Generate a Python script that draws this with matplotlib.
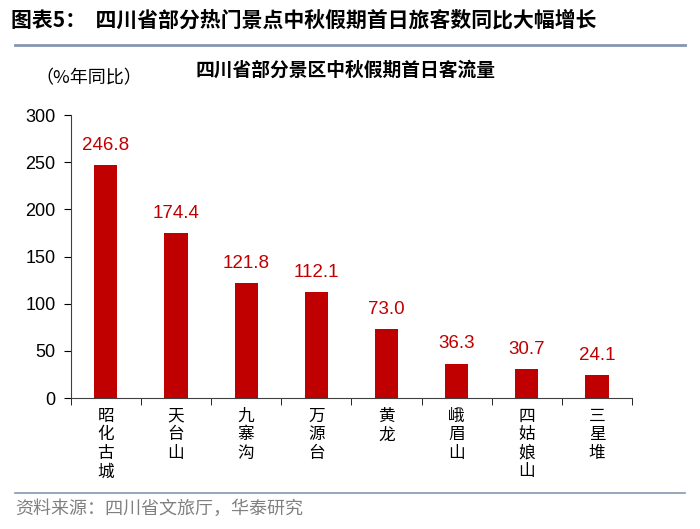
import matplotlib.pyplot as plt
import numpy as np
from matplotlib.lines import Line2D

plt.rcParams['font.family'] = ['Liberation Sans', 'Noto Sans CJK SC', 'DejaVu Sans']

# data
spots = ['昭化古城', '天台山', '九寨沟', '万源台', '黄龙', '峨眉山', '四姑娘山', '三星堆']
yoy = [246.8, 174.4, 121.8, 112.1, 73.0, 36.3, 30.7, 24.1]
yticks = [0, 50, 100, 150, 200, 250, 300]

bar_color = '#C00000'
cjk = ['Noto Sans CJK SC', 'DejaVu Sans']

fig = plt.figure(figsize=(7, 5.29), dpi=100)
ax = fig.add_axes([0.101, 0.2476, 0.802, 0.535])

x = np.arange(len(spots))
ax.bar(x, yoy, width=0.33, color=bar_color, zorder=2)
for xi, v in zip(x, yoy):
    ax.text(xi, v + 12, '{:.1f}'.format(v), ha='center', va='bottom',
            color=bar_color, fontsize=13.5)

ax.set_xlim(-0.5, len(spots) - 0.5)
ax.set_ylim(0, 300)
ax.set_yticks(yticks)
ax.tick_params(axis='y', direction='out', length=5, labelsize=13, pad=6)

# category boundaries get the tick marks, labels sit in the middle
ax.set_xticks(x)
ax.set_xticklabels(['\n'.join(s) for s in spots], family=cjk, fontsize=12,
                   va='top', linespacing=1.12)
ax.tick_params(axis='x', which='major', length=0, pad=7)
ax.set_xticks(np.arange(-0.5, len(spots), 1), minor=True)
ax.tick_params(axis='x', which='minor', direction='out', length=5)

for s in ['top', 'right']:
    ax.spines[s].set_visible(False)
ax.spines['left'].set_color('#404040')
ax.spines['bottom'].set_color('#404040')

# titles and header/footer
fig.text(0.016, 0.962, '图表5：  四川省部分热门景点中秋假期首日旅客数同比大幅增长',
         family=cjk, fontsize=15, fontweight='bold', va='center')
fig.add_artist(Line2D([0.021, 0.979], [0.915, 0.915], color='#8497B0', lw=2))
fig.text(0.493, 0.868, '四川省部分景区中秋假期首日客流量', family=cjk,
         fontsize=13.5, fontweight='bold', ha='center', va='center')
fig.text(0.05, 0.852, '（%年同比）', family=cjk, fontsize=13, va='center')

fig.add_artist(Line2D([0.021, 0.979], [0.068, 0.068], color='#8497B0', lw=1.2))
fig.text(0.021, 0.038, '资料来源：四川省文旅厅，华泰研究', family=cjk,
         fontsize=13, color='#808080', va='center')

fig.savefig('out.png', dpi=100)
